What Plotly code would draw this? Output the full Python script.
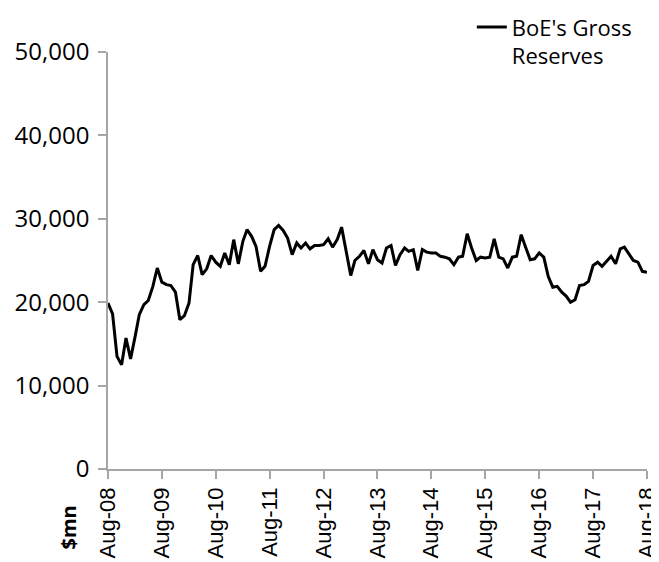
import pandas as pd
import plotly.graph_objects as go

# Monthly BoE gross reserves, $mn, Aug-08 .. Aug-18
start_month = "2008-08-01"
reserves = [
    19900, 18600, 13500, 12500, 15700, 13200, 15900, 18500, 19700, 20200,
    21900, 24100, 22400, 22100, 22000, 21200, 17900, 18400, 19900, 24500,
    25600, 23300, 24000, 25600, 24800, 24300, 25900, 24500, 27500, 24600,
    27300, 28700, 27900, 26700, 23700, 24300, 26700, 28700, 29200, 28600,
    27700, 25700, 27100, 26500, 27100, 26400, 26800, 26800, 26900, 27600,
    26600, 27500, 29000, 26300, 23200, 25000, 25500, 26200, 24600, 26300,
    25100, 24700, 26500, 26800, 24400, 25700, 26500, 26100, 26300, 23800,
    26300, 26000, 25900, 25900, 25500, 25400, 25200, 24500, 25400, 25500,
    28200, 26500, 25000, 25400, 25300, 25400, 27600, 25400, 25200, 24100,
    25400, 25500, 28100, 26600, 25100, 25200, 25900, 25400, 23100, 21800,
    21900, 21200, 20700, 20000, 20300, 22000, 22100, 22500, 24400, 24800,
    24300, 24900, 25500, 24600, 26400, 26600, 25800, 25000, 24800, 23700,
    23600,
]
dates = pd.date_range(start_month, periods=len(reserves), freq="MS")

tick_dates = pd.date_range("2008-08-01", "2018-08-01", freq="12MS")
tick_labels = [d.strftime("%b-%y") for d in tick_dates]
y_ticks = [0, 10000, 20000, 30000, 40000, 50000]
y_labels = ["0", "10,000", "20,000", "30,000", "40,000", "50,000"]
series_name = "BoE's Gross<br>Reserves"
unit_label = "$mn"

axis_grey = "#a6a6a6"

fig = go.Figure()
fig.add_trace(go.Scatter(
    x=dates, y=reserves, mode="lines", name=series_name,
    line=dict(color="black", width=3),
))

x_end = tick_dates[-1] + pd.Timedelta(hours=12)

# page body has an 8px default margin, so the figure is sized to fit inside it
fig.update_layout(
    width=651, height=554,
    margin=dict(l=100, r=12, t=44, b=93, autoexpand=False),
    plot_bgcolor="white", paper_bgcolor="white",
    showlegend=True,
    legend=dict(
        x=0.675, y=1.110, xanchor="left", yanchor="top",
        font=dict(family="Open Sans", size=22, color="black"),
        valign="top", bgcolor="rgba(0,0,0,0)",
    ),
    xaxis=dict(
        range=[tick_dates[0], x_end],
        tickvals=tick_dates, ticktext=tick_labels,
        tickangle=-90, automargin=False, ticklabeloverflow="allow",
        showgrid=False, zeroline=False,
        showline=True, linecolor=axis_grey, linewidth=1.5,
        ticks="outside", ticklen=8, tickcolor=axis_grey, tickwidth=1.5,
        tickfont=dict(family="Liberation Sans", size=22, color="black"),
    ),
    yaxis=dict(
        range=[0, 50000], automargin=False,
        tickvals=y_ticks, ticktext=y_labels,
        showgrid=False, zeroline=False,
        showline=True, linecolor=axis_grey, linewidth=1.5,
        ticks="outside", ticklen=8, tickcolor=axis_grey, tickwidth=1.5,
        tickfont=dict(family="Open Sans", size=24, color="black"),
        ticklabelstandoff=4,
    ),
    annotations=[dict(
        text=unit_label, xref="paper", yref="paper",
        x=-0.074, y=-0.14, xanchor="center", yanchor="middle",
        textangle=-90, showarrow=False,
        font=dict(family="Open Sans", size=20, color="black", weight="bold"),
    )],
)

fig.write_html("out.html")
